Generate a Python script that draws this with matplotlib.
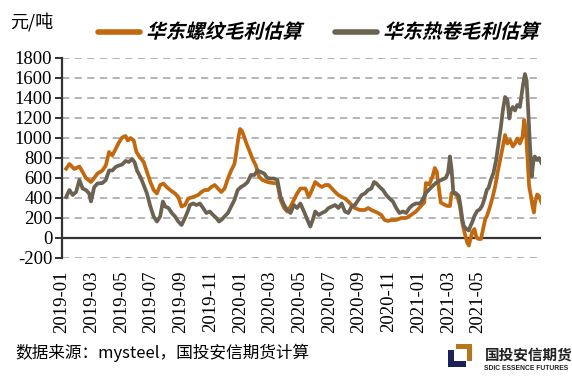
import matplotlib
matplotlib.use("Agg")
import matplotlib.pyplot as plt
from matplotlib.font_manager import FontProperties
from matplotlib.patches import PathPatch, Polygon
from matplotlib.textpath import TextPath
from matplotlib.transforms import Affine2D

# months since 2019-01 (fractional) and margin estimates, yuan/ton
rebar_t = [0.28, 0.5, 0.83, 1.17, 1.39, 1.61, 1.95, 2.17, 2.39, 2.72, 2.95, 3.17, 3.39,
           3.61, 3.83, 4.05, 4.28, 4.43, 4.61, 4.83, 5.01, 5.23, 5.5, 5.72, 5.95, 6.17,
           6.39, 6.61, 6.83, 7.05, 7.28, 7.61, 7.83, 8.05, 8.28, 8.5, 8.83, 9.17, 9.39,
           9.61, 9.83, 10.05, 10.28, 10.5, 10.72, 10.95, 11.17, 11.39, 11.61, 11.72,
           11.88, 11.99, 12.12, 12.28, 12.43, 12.61, 12.83, 13.05, 13.28, 13.5, 13.83,
           14.17, 14.5, 14.72, 14.95, 15.17, 15.39, 15.61, 15.83, 16.05, 16.39, 16.61,
           16.83, 17.05, 17.28, 17.5, 17.72, 17.95, 18.17, 18.39, 18.61, 18.83, 19.05,
           19.28, 19.5, 19.72, 20.05, 20.39, 20.61, 20.83, 21.05, 21.28, 21.5, 21.72,
           21.95, 22.17, 22.5, 22.83, 23.17, 23.5, 23.83, 24.05, 24.17, 24.39, 24.5,
           24.72, 24.95, 25.1, 25.23, 25.39, 25.5, 25.72, 25.95, 26.12, 26.23, 26.39,
           26.61, 26.79, 26.95, 27.1, 27.28, 27.39, 27.5, 27.61, 27.77, 27.9, 28.05,
           28.21, 28.35, 28.5, 28.61, 28.83, 29.01, 29.17, 29.32, 29.5, 29.68, 29.83,
           29.99, 30.17, 30.35, 30.5, 30.65, 30.83, 31.01, 31.12, 31.23, 31.32, 31.45,
           31.57, 31.68, 31.77, 31.85, 31.99, 32.12, 32.28]
rebar = [693, 740, 690, 715, 660, 600, 560, 600, 645, 675, 725, 860, 825,
         890, 955, 1005, 1020, 975, 1000, 975, 860, 810, 760, 660, 560, 480,
         445, 530, 545, 510, 480, 445, 410, 315, 330, 395, 410, 430, 460,
         480, 480, 510, 530, 495, 460, 495, 595, 675, 740, 840,
         1005, 1090, 1070, 1005, 940, 875, 790, 725, 610, 580, 560,
         550, 545, 380, 300, 265, 315, 380, 445, 495, 495, 410,
         480, 560, 530, 510, 530, 530, 495, 460, 430, 410, 395,
         365, 330, 300, 280, 280, 300, 280, 265, 250, 230, 180,
         170, 180, 180, 200, 200, 230, 265, 300, 320, 355, 550,
         535, 615, 700, 665, 485, 355, 335, 320, 320, 450, 450,
         420, 320, 155, 55, -45, -75, -10, 55, 90, 5, -10,
         -10, 90, 190, 220, 320, 420, 520, 650, 780, 915, 1030,
         945, 980, 915, 945, 995, 945, 1015, 1180, 1080, 850, 520,
         420, 320, 255, 355, 435, 420, 355]

coil_t = [0.28, 0.5, 0.72, 0.95, 1.17, 1.39, 1.61, 1.83, 1.95, 2.17, 2.39, 2.72, 2.95,
          3.17, 3.39, 3.61, 3.83, 4.05, 4.28, 4.5, 4.72, 4.88, 5.05, 5.28, 5.5, 5.72,
          5.95, 6.17, 6.39, 6.61, 6.79, 6.95, 7.17, 7.39, 7.61, 7.83, 8.05, 8.28, 8.5,
          8.61, 8.83, 9.05, 9.28, 9.5, 9.72, 9.95, 10.17, 10.39, 10.57, 10.72, 10.95,
          11.17, 11.39, 11.61, 11.83, 12.05, 12.28, 12.5, 12.72, 12.95, 13.17, 13.39,
          13.61, 13.83, 14.05, 14.28, 14.5, 14.72, 14.95, 15.17, 15.39, 15.61, 15.83,
          16.05, 16.39, 16.61, 16.72, 16.88, 17.05, 17.28, 17.5, 17.72, 17.95, 18.17,
          18.39, 18.61, 18.83, 19.05, 19.28, 19.5, 19.72, 19.95, 20.17, 20.39, 20.61,
          20.83, 21.01, 21.17, 21.39, 21.61, 21.83, 22.05, 22.28, 22.5, 22.72, 22.95,
          23.17, 23.39, 23.61, 23.83, 24.05, 24.17, 24.35, 24.5, 24.72, 24.95, 25.17,
          25.39, 25.61, 25.83, 25.99, 26.12, 26.23, 26.35, 26.5, 26.72, 26.83, 26.95,
          27.05, 27.23, 27.39, 27.5, 27.61, 27.77, 27.95, 28.12, 28.28, 28.43, 28.61,
          28.72, 28.88, 29.05, 29.23, 29.39, 29.55, 29.68, 29.83, 29.99, 30.12, 30.21,
          30.35, 30.5, 30.65, 30.83, 30.95, 31.05, 31.17, 31.28, 31.39, 31.5, 31.63,
          31.72, 31.83, 31.99, 32.12, 32.28]
coil = [410, 480, 430, 460, 580, 495, 480, 445, 365, 510, 545, 550, 580,
        675, 675, 710, 725, 735, 770, 760, 790, 760, 675, 610, 530, 445,
        315, 215, 165, 215, 365, 315, 300, 250, 215, 165, 130, 200, 280,
        330, 345, 330, 345, 300, 250, 265, 230, 200, 165, 180, 215,
        250, 315, 380, 480, 510, 530, 560, 630, 630, 675, 660,
        645, 600, 595, 595, 580, 410, 330, 280, 250, 330, 300,
        345, 230, 150, 115, 180, 265, 230, 250, 265, 300, 315,
        330, 300, 345, 265, 250, 315, 330, 380, 430, 445, 480,
        495, 560, 545, 510, 480, 430, 395, 365, 300, 250, 265,
        250, 300, 330, 345, 345, 355, 405, 450, 485, 520, 550,
        570, 585, 600, 650, 815, 685, 450, 450, 420, 320, 190,
        120, 90, 75, 120, 155, 220, 270, 285, 320, 385, 485,
        500, 585, 650, 780, 945, 1110, 1275, 1410, 1380, 1195, 1275,
        1310, 1275, 1330, 1310, 1440, 1540, 1640, 1575, 1275, 945, 615,
        750, 815, 780, 800, 750]

tick_pos = list(range(0, 30, 2))
tick_labels = ["2019-01", "2019-03", "2019-05", "2019-07", "2019-09", "2019-11",
               "2020-01", "2020-03", "2020-05", "2020-07", "2020-09", "2020-11",
               "2021-01", "2021-03", "2021-05"]
y_ticks = list(range(-200, 1801, 200))

ORANGE = "#C2680E"
GREY = "#6C6252"
DARK = "#333333"
CJK = ["Noto Sans CJK SC", "DejaVu Sans"]

plt.rcParams["font.family"] = "serif"
plt.rcParams["font.serif"] = ["Liberation Serif", "DejaVu Serif"]

W, H = 572, 380
fig = plt.figure(figsize=(W / 100, H / 100), dpi=100)
ax = fig.add_axes([62 / W, 1 - 258 / H, 479 / W, 200 / H])

for v in y_ticks:
    if v != 0:
        ax.axhline(v, color="#AFAFAF", lw=1.3, ls=(0, (4, 3)), zorder=1)
ax.axhline(0, color=DARK, lw=1.6, zorder=2)

ax.plot(rebar_t, rebar, color=ORANGE, lw=2.7, zorder=3, solid_joinstyle="round")
ax.plot(coil_t, coil, color=GREY, lw=2.7, zorder=4, solid_joinstyle="round")

ax.set_xlim(0.3, 32.25)
ax.set_ylim(-200, 1800)
for s in ["top", "right", "bottom"]:
    ax.spines[s].set_visible(False)
ax.spines["left"].set_color(DARK)
ax.spines["left"].set_linewidth(1.6)

ax.set_yticks(y_ticks)
ax.set_yticklabels([str(v) for v in y_ticks], fontsize=13.5)
ax.tick_params(axis="y", length=5, width=1.4, color=DARK, pad=2)
ax.set_xticks(tick_pos)
ax.set_xticklabels(tick_labels, rotation=90, fontsize=13.5)
ax.tick_params(axis="x", length=0, pad=9)


def slanted(x_px, y_px, s, size, color="black"):
    """CJK fonts carry no italic, so shear the glyph outlines by hand."""
    prop = FontProperties(family="Noto Sans CJK SC", weight="bold")
    path = TextPath((0, 0), s, size=size, prop=prop)
    tr = (Affine2D().skew_deg(14, 0).scale(1 / 72)
          .translate(x_px / 100, (H - y_px) / 100) + fig.dpi_scale_trans)
    fig.patches.append(PathPatch(path, transform=tr, facecolor=color,
                                 edgecolor="none"))


# legend
fig.add_artist(plt.Line2D([98 / W, 140 / W], [1 - 31.5 / H] * 2, color=ORANGE,
                          lw=4, solid_capstyle="round"))
slanted(146, 38, "华东螺纹毛利估算", 14)
fig.add_artist(plt.Line2D([335 / W, 377 / W], [1 - 31.5 / H] * 2, color=GREY,
                          lw=4, solid_capstyle="round"))
slanted(383, 38, "华东热卷毛利估算", 14)

fig.text(10 / W, 1 - 22 / H, "元/吨", family=CJK, fontsize=13, va="center")
fig.text(15 / W, 1 - 353 / H, "数据来源：mysteel，国投安信期货计算", family=CJK,
         fontsize=12, va="center")

# logo
navy = "#1B2356"
logo_navy = [(448, 350), (454, 350), (454, 361), (466, 361), (466, 367), (448, 367)]
logo_gold = [(456, 344), (472, 344), (472, 361), (467, 361), (467, 349), (456, 349)]
for pts, c in [(logo_navy, navy), (logo_gold, "#B8741A")]:
    fig.patches.append(Polygon([(x, H - y) for x, y in pts], closed=True,
                               facecolor=c, transform=None))
fig.text(485 / W, 1 - 355 / H, "国投安信期货", family=CJK, fontsize=10.5,
         weight="bold", color="#222222", va="center")
fig.text(568 / W, 1 - 369 / H, "SDIC ESSENCE FUTURES", family="Liberation Sans",
         fontsize=4.9, weight="bold", color="#222222", va="center", ha="right")

fig.savefig("out.png", dpi=100)
